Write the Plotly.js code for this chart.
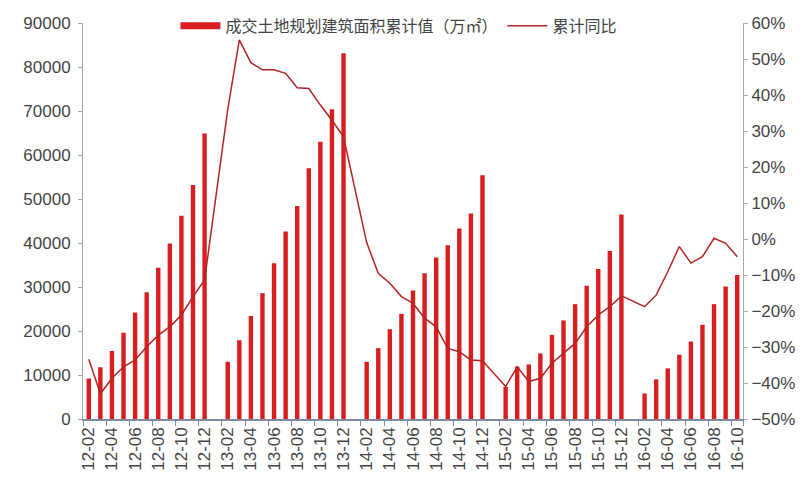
<!DOCTYPE html>
<html>
<head>
<meta charset="utf-8">
<script src="https://cdn.plot.ly/plotly-3.0.1.min.js"></script>
<style>html,body{margin:0;padding:0;background:#fff;}#chart{width:800px;height:500px;}</style>
</head>
<body>
<div id="chart"></div>
<script>
var categories = [
 "12-02","12-03","12-04","12-05","12-06","12-07","12-08","12-09","12-10","12-11","12-12",
 "13-01","13-02","13-03","13-04","13-05","13-06","13-07","13-08","13-09","13-10","13-11","13-12",
 "14-01","14-02","14-03","14-04","14-05","14-06","14-07","14-08","14-09","14-10","14-11","14-12",
 "15-01","15-02","15-03","15-04","15-05","15-06","15-07","15-08","15-09","15-10","15-11","15-12",
 "16-01","16-02","16-03","16-04","16-05","16-06","16-07","16-08","16-09","16-10"
];
var areaCum = [
 9200,11750,15450,19600,24200,28800,34400,39900,46200,53200,64900,
 null,13000,17900,23400,28600,35400,42600,48400,57000,63000,70400,83100,
 null,13000,16100,20400,23900,29200,33100,36700,39500,43300,46700,55400,
 null,7300,11900,12400,14900,19100,22400,26100,30300,34100,38200,46500,
 null,5800,9000,11500,14600,17600,21400,26100,30100,32700
];
var yoyPct = [
 -33.4,-43.0,-38.7,-35.5,-33.6,-29.9,-26.7,-24.4,-21.1,-16.0,-11.4,
 null,36.0,55.3,49.0,47.0,47.0,46.0,42.0,41.8,37.2,33.0,28.4,
 null,-1.0,-9.5,-12.3,-16.0,-17.9,-22.0,-24.4,-30.4,-31.3,-33.6,-33.8,
 null,-41.0,-35.5,-39.6,-38.7,-34.5,-31.7,-29.0,-24.4,-21.1,-18.8,-15.8,
 null,-18.8,-15.6,-9.1,-2.1,-6.7,-4.9,0.2,-1.2,-4.9
];
var tickLabels = categories.filter(function(c, i){ return i % 2 === 0; });
var barName = "成交土地规划建筑面积累计值（万㎡）";
var lineName = "累计同比";
var barColor = "#d81e1e";
var lineColor = "#b32424";

var traces = [
 {type:"bar", x:categories, y:areaCum, name:barName, marker:{color:barColor}, yaxis:"y", showlegend:false},
 // legend entry for the bar series, drawn as a thick band like the reference
 {type:"scatter", mode:"lines", x:[categories[0]], y:[null], name:barName,
  line:{color:barColor, width:7}, yaxis:"y", hoverinfo:"skip"},
 {type:"scatter", mode:"lines", x:categories, y:yoyPct, name:lineName, connectgaps:true,
  line:{color:lineColor, width:1.5}, yaxis:"y2"}
];
var fontFam = "Liberation Sans, Arial, Noto Sans CJK SC, sans-serif";
var tickColor = "#454545";
var layout = {
 width:800, height:500,
 margin:{l:83, r:57, t:23, b:81, autoexpand:false},
 paper_bgcolor:"#fff", plot_bgcolor:"#fff",
 font:{family:fontFam, color:tickColor, size:14},
 bargap:0.62,
 showlegend:true,
 legend:{orientation:"h", x:0.14, xanchor:"left", y:0.993, yanchor:"middle",
   itemwidth:40, traceorder:"normal",
   bgcolor:"rgba(0,0,0,0)", font:{family:"Noto Sans CJK SC, sans-serif", size:16, color:"#454545"}},
 xaxis:{type:"category", categoryarray:categories, categoryorder:"array",
   tickmode:"array", tickvals:tickLabels, ticktext:tickLabels, tickangle:-90,
   ticks:"outside", ticklen:5, tickcolor:"#7f8aa6", tickson:"boundaries",
   showline:true, linecolor:"#7f8aa6", linewidth:1.5, showgrid:false, zeroline:false,
   tickfont:{size:17, color:tickColor}, range:[-0.5, 56.5]},
 yaxis:{range:[0,90000], dtick:10000, tick0:0, tickformat:"d", showgrid:false, zeroline:false,
   showline:true, linecolor:"#aaa", ticks:"outside", ticklen:4, tickcolor:"#aaa",
   tickfont:{size:17, color:tickColor}, ticklabelstandoff:4},
 yaxis2:{overlaying:"y", side:"right", range:[-50,60], dtick:10, tick0:0,
   ticksuffix:"%", showgrid:false, zeroline:false, showline:true, linecolor:"#aaa",
   ticks:"outside", ticklen:4, tickcolor:"#aaa", tickfont:{size:17, color:tickColor}}
};
Plotly.newPlot("chart", traces, layout, {displayModeBar:false, staticPlot:true});
</script>
</body>
</html>
